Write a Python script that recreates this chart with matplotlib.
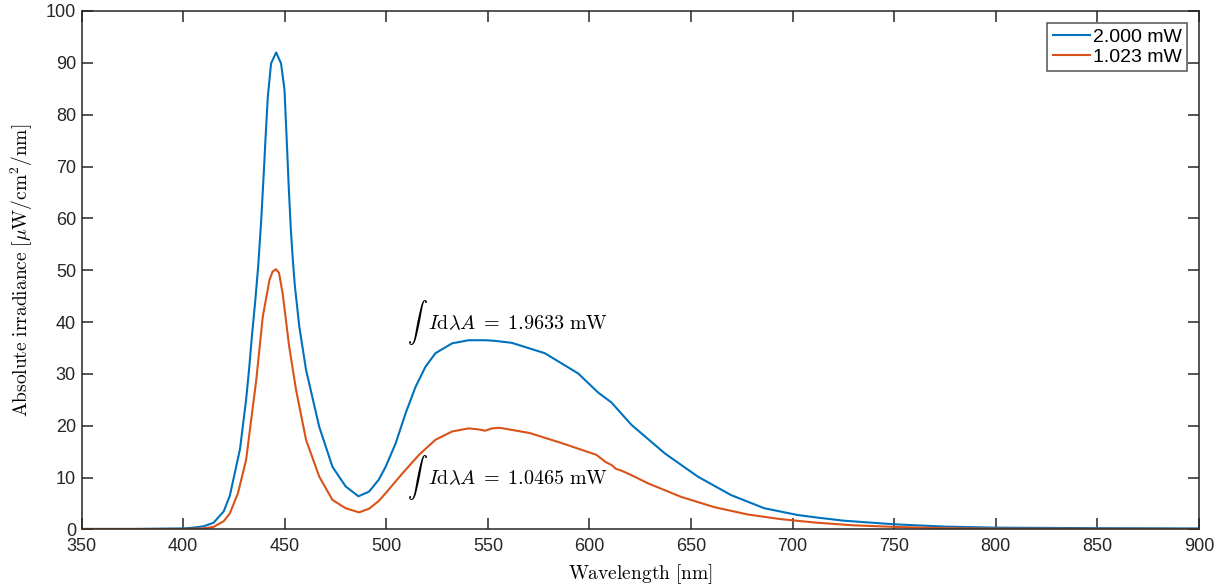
import numpy as np
import matplotlib
matplotlib.use("Agg")
import matplotlib.pyplot as plt

plt.rcParams['font.family'] = ['Liberation Sans', 'DejaVu Sans']
plt.rcParams['mathtext.fontset'] = 'cm'

# spectra (wavelength nm, irradiance uW/cm^2/nm)
wl_2mw = [350, 375, 400, 405, 410, 415, 420, 423, 428, 431, 432.5, 434, 435.5, 437, 438.5,
          440, 440.5, 441.7, 443.3, 445.8, 448.2, 449.9, 450.9, 452, 453, 454, 455, 457.2,
          460.5, 467, 473.5, 480, 486.3, 491.5, 496.3, 499.7, 504.6, 509.5, 514.4, 519.3,
          524.2, 532.4, 540.5, 548.7, 553, 561.7, 578, 594.4, 604.3, 610.8, 620.6, 637,
          653.3, 669.6, 686, 702.3, 712, 725, 750, 775, 800, 850, 900]
irr_2mw = [0.1, 0.1, 0.2, 0.35, 0.6, 1.3, 3.5, 6.5, 15.5, 25, 31, 37.9, 44, 51, 60,
           71, 75, 83.5, 89.9, 92.0, 89.9, 84.8, 76, 66, 58, 52, 47, 39.1,
           30.8, 19.8, 12.1, 8.3, 6.4, 7.3, 9.6, 12.1, 16.6, 22.4, 27.5, 31.4,
           34.0, 35.9, 36.5, 36.5, 36.4, 36.0, 34.0, 30.1, 26.4, 24.5, 20.2, 14.7,
           10.2, 6.65, 4.1, 2.8, 2.3, 1.7, 1.0, 0.55, 0.35, 0.25, 0.2]

wl_1mw = [350, 375, 400, 410, 415, 420, 423, 427, 431, 436, 439.2, 442.5, 444, 445.6, 447.2,
          449, 452.2, 455.6, 460.5, 467, 473.5, 480, 486.6, 491.5, 496.3, 499.7, 507.9, 516.1,
          524.2, 532.4, 540.5, 545.4, 548.7, 552, 556, 570.6, 586.8, 603.4, 608, 611, 613,
          616, 620, 628.8, 645, 661.5, 677.8, 694, 712, 730, 750, 775, 800, 850, 900]
irr_1mw = [0.1, 0.1, 0.1, 0.2, 0.5, 1.6, 3.1, 7, 13.4, 28.8, 41, 48.1, 49.7, 50.2, 49.5,
           45.5, 35.3, 26.9, 17.3, 10.2, 5.7, 4.1, 3.3, 4.0, 5.5, 7.0, 10.8, 14.4,
           17.3, 18.9, 19.5, 19.3, 19.05, 19.5, 19.6, 18.6, 16.6, 14.4, 13.0, 12.4, 11.7,
           11.3, 10.6, 8.9, 6.3, 4.3, 2.9, 2.0, 1.3, 0.8, 0.5, 0.25, 0.15, 0.12, 0.1]

legend_labels = ['2.000 mW', '1.023 mW']
integrals = ['1.9633', '1.0465']

fig = plt.figure(figsize=(12.22, 5.87), dpi=100)
ax = fig.add_axes([0.0667, 0.098, 0.9145, 0.8833])

ax.plot(wl_2mw, irr_2mw, color='#0072BD', lw=1.5, label=legend_labels[0])
ax.plot(wl_1mw, irr_1mw, color='#D95319', lw=1.5, label=legend_labels[1])

for val, y in zip(integrals, [40, 10]):
    ax.text(510, y, r'$\int\;\; I\mathrm{d}\lambda A \;=\; ' + val + r'\ \mathrm{mW}$',
            fontsize=14.5, va='center', ha='left')

ax.set_xlim(350, 900)
ax.set_ylim(0, 100)
ax.set_xticks(np.arange(350, 901, 50))
ax.set_yticks(np.arange(0, 101, 10))

for s in ax.spines.values():
    s.set_color('#262626')
    s.set_linewidth(1.1)
ax.tick_params(direction='in', length=8, width=1.1, color='#262626', labelcolor='#262626',
               labelsize=13, top=True, right=True)
ax.tick_params(axis='x', pad=6)
ax.tick_params(axis='y', pad=4)

ax.set_xlabel(r'$\mathrm{Wavelength\ [nm]}$', fontsize=14, labelpad=5)
ax.set_ylabel(r'$\mathrm{Absolute\ irradiance\ [}\mu\mathrm{W/cm^2/nm]}$', fontsize=14, labelpad=8)

leg = ax.legend(loc='upper right', fontsize=14, frameon=True, fancybox=False,
                handlelength=1.9, handletextpad=0.15, borderpad=0.3, labelspacing=0.1,
                borderaxespad=0.6)
leg.get_frame().set_edgecolor('#262626')
leg.get_frame().set_linewidth(1.1)

fig.savefig('out.png', dpi=100)
